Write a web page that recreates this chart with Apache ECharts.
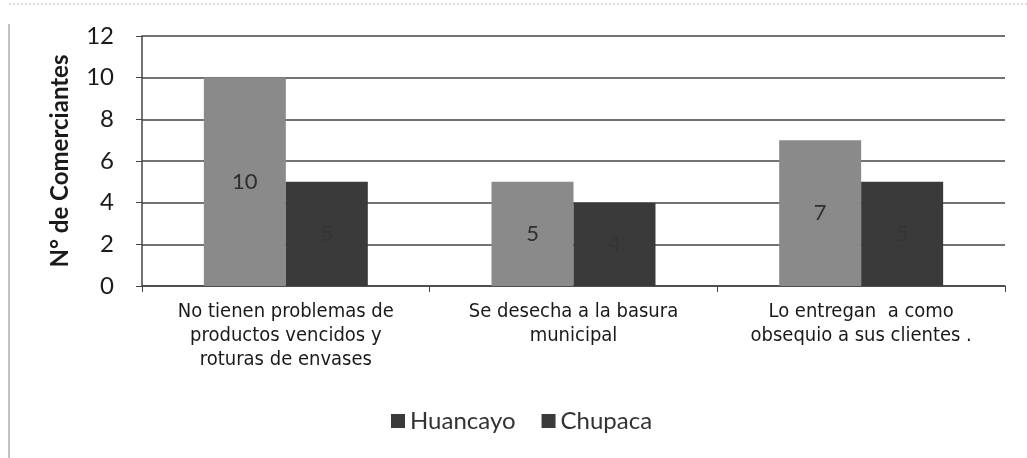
<!DOCTYPE html>
<html>
<head>
<meta charset="utf-8">
<script src="https://cdn.jsdelivr.net/npm/echarts@6/dist/echarts.min.js"></script>
<style>
  html, body { margin: 0; padding: 0; background: #fff; }
  #chart { width: 1027px; height: 458px; }
</style>
</head>
<body>
<div id="chart"></div>
<script>
// datos
const categorias = [
  'No tienen problemas de\nproductos vencidos y\nroturas de envases',
  'Se desecha a la basura\nmunicipal',
  'Lo entregan  a como\nobsequio a sus clientes .'
];
const huancayo = [10, 5, 7];
const chupaca = [5, 4, 5];

const myChart = echarts.init(document.getElementById('chart'));

const option = {
  animation: false,
  graphic: [
    { type: 'line', shape: { x1: 9, y1: 4, x2: 1027, y2: 4 }, style: { stroke: '#bbb', lineWidth: 1, lineDash: [2, 2] } },
    { type: 'line', shape: { x1: 9, y1: 24, x2: 9, y2: 458 }, style: { stroke: '#999', lineWidth: 1.2 } }
  ],
  grid: { left: 142, right: 22, top: 36, bottom: 172 },
  legend: {
    top: 404,
    left: 386,
    itemWidth: 14,
    itemHeight: 14,
    itemGap: 26,
    icon: 'rect',
    textStyle: { fontFamily: 'Lato', fontSize: 24, color: '#333' },
    data: [
      { name: 'Huancayo', itemStyle: { color: '#3a3a3a' } },
      { name: 'Chupaca', itemStyle: { color: '#3a3a3a' } }
    ]
  },
  xAxis: {
    type: 'category',
    data: categorias,
    axisLine: { lineStyle: { color: '#444', width: 1.5 } },
    axisTick: { show: true, length: 6, lineStyle: { color: '#444' } },
    axisLabel: {
      interval: 0,
      fontFamily: 'Liberation Sans Narrow, DejaVu Sans Condensed, Liberation Sans',
      fontSize: 20,
      lineHeight: 24,
      color: '#1a1a1a',
      margin: 14
    }
  },
  yAxis: {
    type: 'value',
    min: 0,
    max: 12,
    interval: 2,
    name: 'N° de Comerciantes',
    nameLocation: 'middle',
    nameGap: 70,
    nameTextStyle: { fontFamily: 'Lato', fontWeight: 'bold', fontSize: 24, color: '#1a1a1a' },
    axisLine: { show: true, lineStyle: { color: '#444', width: 1.5 } },
    axisTick: { show: true, length: 6, lineStyle: { color: '#444' } },
    axisLabel: { fontFamily: 'Lato', fontSize: 24, color: '#1a1a1a', margin: 28 },
    splitLine: { lineStyle: { color: '#444', width: 1.5 } }
  },
  series: [
    {
      name: 'Huancayo',
      type: 'bar',
      data: huancayo,
      barGap: '0%',
      barCategoryGap: '43%',
      itemStyle: { color: '#8a8a8a' },
      label: {
        show: true,
        position: 'inside',
        fontFamily: 'Lato',
        fontSize: 22,
        color: '#2e2e2e'
      }
    },
    {
      name: 'Chupaca',
      type: 'bar',
      data: chupaca,
      itemStyle: { color: '#3a3a3a' },
      label: {
        show: true,
        position: 'inside',
        fontFamily: 'Lato',
        fontSize: 22,
        color: '#353535'
      }
    }
  ]
};

option && myChart.setOption(option);
</script>
</body>
</html>
